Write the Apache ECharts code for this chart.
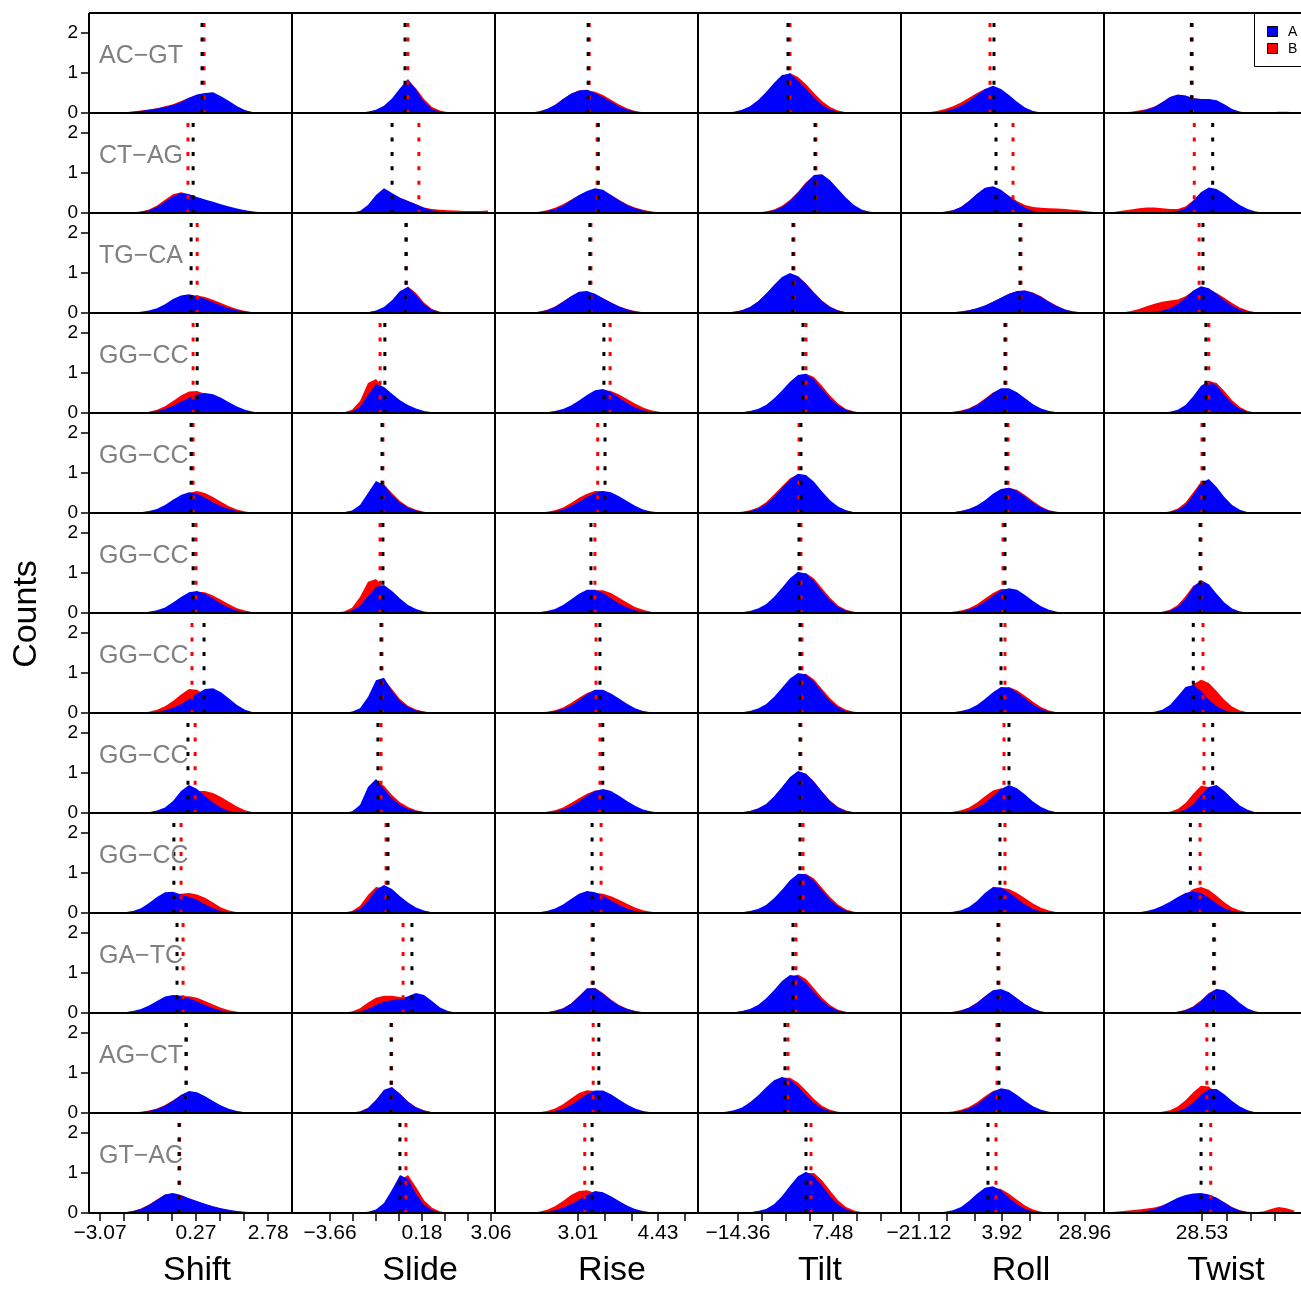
<!DOCTYPE html>
<html><head><meta charset="utf-8">
<script src="https://cdn.jsdelivr.net/npm/echarts@6/dist/echarts.min.js"></script>
<style>html,body{margin:0;padding:0;background:#fff;}#c{width:1301px;height:1291px;}</style>
</head><body><div id="c"></div>
<script>
// ---------------- DATA ----------------
const parameters = ['Shift', 'Slide', 'Rise', 'Tilt', 'Roll', 'Twist'];
const steps = ['AC\u2212GT', 'CT\u2212AG', 'TG\u2212CA', 'GG\u2212CC', 'GG\u2212CC', 'GG\u2212CC', 'GG\u2212CC', 'GG\u2212CC', 'GG\u2212CC', 'GA\u2212TC', 'AG\u2212CT', 'GT\u2212AC'];
const groupNames = ['A', 'B'];
const yTickValues = [0, 1, 2];
const yMax = 2.5;
const axisMin = [-3.4527, -5.2461, 1.5368, -23.556, -26.550, -11.87];
const axisMax = [3.6099, 3.2270, 5.1400, 23.113, 34.692, 69.33];
const shiftTicks = [-3.07, -2.235, -1.40, -0.565, 0.27, 1.105, 1.94, 2.775];
const slideTicks = [-3.66, -2.70, -1.74, -0.78, 0.18, 1.14, 2.10, 3.06];
const riseTicks = [3.01, 3.483, 3.957, 4.43, 4.903];
const tiltTicks = [-14.36, -8.90, -3.44, 2.02, 7.48, 12.94, 18.40];
const rollTicks = [-21.12, -12.773, -4.427, 3.92, 12.267, 20.613, 28.96];
const twistTicks = [28.53, 38.53, 48.53, 58.53];
const shiftLabels = [-3.07, 0.27, 2.78];
const slideLabels = [-3.66, 0.18, 3.06];
const riseLabels = [3.01, 4.43];
const tiltLabels = [-14.36, 7.48];
const rollLabels = [-21.12, 3.92, 28.96];
const twistLabels = [28.53];
// histogram bins: first bin centre and bin width (data units) per parameter
const binStart = [-3.3135, -5.0792, 1.6078, -22.636, -25.344, -10.27];
const binWidth = [0.27833, 0.33392, 0.14200, 1.8392, 2.4135, 3.2];
// bin counts x100, one row per step (12 rows x 25 bins)
const shiftA = [
[0,0,0,1,2,3,5,8,11,15,20,27,38,46,50,52,42,30,17,7,2,1,0,0,0],
[0,0,0,0,0,1,3,7,15,28,42,50,47,40,34,28,22,16,11,7,4,2,1,0,0],
[0,0,0,0,0,1,3,6,12,22,35,44,47,42,35,27,19,12,7,4,2,1,0,0,0],
[0,0,0,0,0,0,1,2,5,10,18,28,38,46,50,47,38,27,16,8,3,1,0,0,0],
[0,0,0,0,0,1,2,5,10,20,33,45,52,48,38,27,17,10,5,2,1,0,0,0,0],
[0,0,0,0,0,0,1,3,7,14,26,40,52,55,48,36,23,13,6,2,1,0,0,0,0],
[0,0,0,0,0,0,0,1,3,7,13,22,35,48,60,62,52,36,20,8,2,1,0,0,0],
[0,0,0,0,0,0,1,2,6,14,30,55,70,60,42,26,13,5,2,1,0,0,0,0,0],
[0,0,0,1,2,5,12,25,40,52,53,46,40,33,22,12,5,2,1,0,0,0,0,0,0],
[0,0,0,1,2,5,10,19,30,41,45,43,37,29,20,12,6,3,1,0,0,0,0,0,0],
[0,0,0,0,0,1,2,5,10,18,30,45,55,52,42,30,19,10,5,2,1,0,0,0,0],
[0,0,0,1,2,5,10,20,33,46,50,45,37,30,23,17,12,8,5,3,2,1,0,0,0]];
const shiftB = [
[0,0,0,1,2,4,6,9,12,17,22,30,38,45,48,48,40,28,16,7,2,1,0,0,0],
[0,0,0,0,0,2,4,9,19,33,47,52,47,38,31,25,19,14,9,6,3,1,0,0,0],
[0,0,0,0,0,1,2,5,10,18,29,38,43,44,40,33,25,17,10,5,2,1,0,0,0],
[0,0,0,0,0,0,1,3,8,17,30,44,54,55,48,38,27,17,9,4,1,0,0,0,0],
[0,0,0,0,0,1,2,4,8,16,28,40,50,55,50,40,28,17,9,4,1,0,0,0,0],
[0,0,0,0,0,0,1,2,5,11,21,34,46,53,52,44,33,22,12,6,2,1,0,0,0],
[0,0,0,0,0,0,1,3,8,17,30,46,60,58,45,30,17,8,3,1,0,0,0,0,0],
[0,0,0,0,0,0,1,2,5,10,20,35,48,55,55,50,40,28,16,7,2,1,0,0,0],
[0,0,0,1,2,4,9,18,30,40,45,48,50,46,38,26,14,6,2,1,0,0,0,0,0],
[0,0,0,1,2,4,8,15,24,34,40,42,42,38,30,21,13,7,3,1,0,0,0,0,0],
[0,0,0,0,0,1,3,6,11,20,32,45,53,50,41,29,18,10,4,2,1,0,0,0,0],
[0,0,0,1,2,5,11,21,34,46,49,44,36,29,22,16,11,7,4,2,1,0,0,0,0]];
const slideA = [
[0,0,0,0,0,0,0,0,1,3,8,18,36,62,85,58,28,10,3,1,0,0,0,0,0],
[0,0,0,0,0,0,0,1,5,20,45,62,50,38,30,22,13,7,4,2,1,1,0,0,0],
[0,0,0,0,0,0,0,0,1,2,6,15,32,55,65,45,22,8,2,1,0,0,0,0,0],
[0,0,0,0,0,0,1,4,15,45,72,65,48,32,20,11,5,2,1,0,0,0,0,0,0],
[0,0,0,0,0,1,2,6,20,50,80,70,45,26,13,6,2,1,0,0,0,0,0,0,0],
[0,0,0,0,0,1,2,6,18,42,65,70,55,36,20,10,4,1,0,0,0,0,0,0,0],
[0,0,0,0,0,0,1,3,12,40,82,88,55,30,15,7,3,1,0,0,0,0,0,0,0],
[0,0,0,0,0,0,1,4,20,65,85,60,36,20,10,5,2,1,0,0,0,0,0,0,0],
[0,0,0,0,0,0,1,3,10,30,58,70,60,42,26,14,6,2,1,0,0,0,0,0,0],
[0,0,0,0,0,0,0,1,4,10,20,28,32,35,42,50,45,30,14,5,1,0,0,0,0],
[0,0,0,0,0,0,0,1,4,12,32,58,65,48,28,14,6,2,1,0,0,0,0,0,0],
[0,0,0,0,0,0,0,0,1,3,9,25,58,95,85,48,20,7,2,1,0,0,0,0,0]];
const slideB = [
[0,0,0,0,0,0,0,0,1,3,7,16,33,58,82,62,35,15,6,2,1,0,0,0,0],
[0,0,0,0,0,0,0,1,4,18,42,58,48,38,30,22,14,10,8,7,6,5,5,5,6],
[0,0,0,0,0,0,0,0,1,2,5,13,29,52,66,50,26,10,3,1,0,0,0,0,0],
[0,0,0,0,0,0,2,8,30,75,85,60,40,25,14,7,3,1,0,0,0,0,0,0,0],
[0,0,0,0,0,1,2,5,17,45,75,72,50,30,16,8,3,1,0,0,0,0,0,0,0],
[0,0,0,0,0,1,4,13,40,78,85,62,40,24,13,6,2,1,0,0,0,0,0,0,0],
[0,0,0,0,0,0,1,3,10,35,75,85,60,35,18,9,4,1,0,0,0,0,0,0,0],
[0,0,0,0,0,0,1,3,15,55,80,68,45,27,15,7,3,1,0,0,0,0,0,0,0],
[0,0,0,0,0,0,1,5,18,45,65,62,50,35,21,11,5,1,0,0,0,0,0,0,0],
[0,0,0,0,0,0,1,4,12,26,38,43,43,40,36,30,20,10,4,1,0,0,0,0,0],
[0,0,0,0,0,0,0,1,4,13,33,57,63,48,29,15,7,2,1,0,0,0,0,0,0],
[0,0,0,0,0,0,0,0,1,2,7,20,48,82,95,65,32,13,4,1,0,0,0,0,0]];
const riseA = [
[0,0,0,0,1,4,10,20,35,48,56,58,50,40,28,17,9,4,1,0,0,0,0,0,0],
[0,0,0,0,1,2,5,10,18,32,45,55,62,58,45,32,20,12,6,3,1,0,0,0,0],
[0,0,0,0,1,3,7,15,28,42,53,55,48,37,26,16,9,4,2,1,0,0,0,0,0],
[0,0,0,0,0,1,2,5,10,19,31,45,57,60,52,38,25,14,7,3,1,0,0,0,0],
[0,0,0,0,0,1,2,4,9,17,28,40,50,55,52,42,30,18,9,4,2,1,0,0,0],
[0,0,0,0,1,2,5,10,20,34,48,58,58,50,37,24,14,7,3,1,0,0,0,0,0],
[0,0,0,0,0,1,2,5,10,19,32,47,58,58,49,36,23,12,5,2,1,0,0,0,0],
[0,0,0,0,0,1,2,4,9,17,29,43,55,60,55,43,30,18,9,4,1,0,0,0,0],
[0,0,0,0,1,2,5,11,21,35,48,55,52,43,31,20,11,5,2,1,0,0,0,0,0],
[0,0,0,0,0,1,2,5,11,23,42,62,62,48,32,19,10,5,2,1,0,0,0,0,0],
[0,0,0,0,0,1,2,5,10,20,33,47,56,56,47,34,21,11,5,2,1,0,0,0,0],
[0,0,0,0,0,1,3,7,13,22,33,45,55,52,42,30,19,10,5,2,1,0,0,0,0]];
const riseB = [
[0,0,0,0,1,4,10,20,35,48,56,57,53,45,33,21,12,5,2,0,0,0,0,0,0],
[0,0,0,0,1,3,7,13,22,33,44,53,58,55,45,33,22,14,8,4,2,1,0,0,0],
[0,0,0,0,1,3,8,16,29,42,52,53,47,37,26,17,10,5,2,1,0,0,0,0,0],
[0,0,0,0,0,1,2,4,8,15,26,40,52,58,55,46,35,24,14,7,3,1,0,0,0],
[0,0,0,0,0,1,3,7,14,25,38,48,55,55,47,35,23,13,6,3,1,0,0,0,0],
[0,0,0,0,1,2,4,8,15,26,39,50,57,57,50,38,26,15,8,3,1,0,0,0,0],
[0,0,0,0,0,1,3,7,14,25,38,50,57,54,44,31,19,10,4,1,0,0,0,0,0],
[0,0,0,0,0,1,3,7,14,25,37,48,56,57,50,38,25,14,7,3,1,0,0,0,0],
[0,0,0,0,1,2,4,8,15,26,38,47,50,48,42,33,23,14,7,3,1,0,0,0,0],
[0,0,0,0,0,1,2,6,12,24,42,60,63,50,34,20,11,5,2,1,0,0,0,0,0],
[0,0,0,0,1,2,5,11,22,36,50,57,55,46,34,22,12,6,2,1,0,0,0,0,0],
[0,0,0,0,1,3,8,17,30,45,55,57,50,40,29,18,10,5,2,1,0,0,0,0,0]];
const tiltA = [
[0,0,0,1,3,8,17,32,52,75,95,98,82,60,38,20,9,3,1,0,0,0,0,0,0],
[0,0,0,0,0,0,0,1,3,7,15,30,50,75,95,97,82,60,38,20,8,3,1,0,0],
[0,0,0,1,3,7,15,29,48,70,90,100,92,73,50,30,15,6,2,1,0,0,0,0,0],
[0,0,0,0,1,2,5,10,20,36,56,78,95,98,84,60,37,19,8,3,1,0,0,0,0],
[0,0,0,0,1,2,5,11,22,40,62,84,98,95,78,54,32,16,7,2,1,0,0,0,0],
[0,0,0,0,1,2,5,11,22,40,63,87,103,98,80,55,32,15,6,2,1,0,0,0,0],
[0,0,0,0,1,2,5,11,22,40,63,86,100,96,78,53,30,14,5,2,1,0,0,0,0],
[0,0,0,0,1,2,5,11,22,41,65,90,105,98,78,53,30,14,5,2,1,0,0,0,0],
[0,0,0,0,1,2,5,10,20,37,58,82,98,97,80,56,33,16,6,2,1,0,0,0,0],
[0,0,0,1,2,5,10,20,36,57,80,95,92,75,52,31,15,6,2,1,0,0,0,0,0],
[0,0,1,3,7,14,27,44,64,82,90,84,66,44,25,12,5,2,1,0,0,0,0,0,0],
[0,0,0,0,0,1,2,5,10,22,42,68,92,103,92,68,42,22,9,3,1,0,0,0,0]];
const tiltB = [
[0,0,0,1,2,6,14,28,48,72,92,100,90,72,50,30,15,6,2,0,0,0,0,0,0],
[0,0,0,0,0,0,0,2,4,9,18,33,53,77,93,95,80,58,36,18,7,2,1,0,0],
[0,0,0,1,3,7,15,28,47,69,88,97,92,74,52,31,16,7,2,1,0,0,0,0,0],
[0,0,0,0,1,2,4,9,18,33,52,74,92,98,90,68,44,24,10,4,1,0,0,0,0],
[0,0,0,0,1,3,7,14,27,46,67,87,97,92,74,50,29,14,6,2,1,0,0,0,0],
[0,0,0,0,1,2,4,9,19,35,57,81,98,100,86,62,38,19,8,3,1,0,0,0,0],
[0,0,0,0,1,2,4,9,19,35,57,80,96,98,84,60,37,19,8,3,1,0,0,0,0],
[0,0,0,0,1,2,5,11,22,40,63,88,103,98,79,54,31,15,6,2,1,0,0,0,0],
[0,0,0,0,1,2,4,8,17,32,52,75,93,98,86,63,40,21,9,3,1,0,0,0,0],
[0,0,0,1,2,4,9,18,32,52,74,90,96,85,62,38,20,8,3,1,0,0,0,0,0],
[0,0,1,2,5,11,22,38,57,76,88,88,76,56,35,18,8,3,1,0,0,0,0,0,0],
[0,0,0,0,0,1,2,4,8,17,33,56,82,100,100,82,56,32,15,6,2,1,0,0,0]];
const rollA = [
[0,0,0,1,2,5,10,18,30,45,60,68,60,45,28,14,5,1,0,0,0,0,0,0,0],
[0,0,0,0,1,3,7,15,30,48,63,67,58,42,26,13,5,1,0,0,0,0,0,0,0],
[0,0,0,0,0,1,2,4,7,12,19,28,38,48,55,56,50,40,28,17,9,4,2,1,0],
[0,0,0,0,0,1,2,5,10,20,34,50,62,62,52,37,22,11,5,2,1,0,0,0,0],
[0,0,0,0,0,1,2,5,10,19,32,48,60,63,55,41,26,14,6,2,1,0,0,0,0],
[0,0,0,0,0,1,2,4,8,16,28,43,56,62,58,45,30,17,8,3,1,0,0,0,0],
[0,0,0,0,0,1,2,5,10,20,35,52,65,64,52,36,21,10,4,1,0,0,0,0,0],
[0,0,0,0,0,0,1,3,6,13,25,42,60,70,62,46,29,15,6,2,1,0,0,0,0],
[0,0,0,0,0,1,3,7,15,30,50,65,64,52,36,21,10,4,1,0,0,0,0,0,0],
[0,0,0,0,0,1,2,6,13,25,42,57,60,52,37,22,11,4,1,0,0,0,0,0,0],
[0,0,0,0,0,1,2,5,11,21,37,53,62,58,45,30,17,8,3,1,0,0,0,0,0],
[0,0,0,0,1,3,7,15,30,48,63,67,56,38,22,10,4,1,0,0,0,0,0,0,0]];
const rollB = [
[0,0,0,2,5,10,17,26,38,50,60,62,55,40,25,12,4,1,0,0,0,0,0,0,0],
[0,0,0,0,1,3,7,15,30,47,62,65,57,43,30,20,15,13,12,11,10,8,6,4,2],
[0,0,0,0,0,1,2,4,7,12,19,28,38,48,54,56,51,42,29,18,9,4,2,1,0],
[0,0,0,0,0,1,3,6,12,22,36,51,60,60,50,35,21,10,4,2,1,0,0,0,0],
[0,0,0,0,0,1,2,5,10,18,30,45,58,63,58,45,30,16,7,3,1,0,0,0,0],
[0,0,0,0,0,1,3,6,12,22,36,50,60,60,52,38,24,13,6,2,1,0,0,0,0],
[0,0,0,0,0,1,2,4,8,17,30,46,60,65,57,43,28,15,6,2,1,0,0,0,0],
[0,0,0,0,0,1,3,7,14,26,42,56,62,58,46,32,19,9,3,1,0,0,0,0,0],
[0,0,0,0,0,1,2,5,11,23,40,56,63,60,50,37,24,13,6,2,1,0,0,0,0],
[0,0,0,0,0,1,3,7,14,26,42,56,58,50,36,22,11,4,1,0,0,0,0,0,0],
[0,0,0,0,1,2,4,8,15,27,42,55,60,52,38,24,13,6,2,1,0,0,0,0,0],
[0,0,0,0,1,2,5,11,22,38,55,64,60,48,33,19,9,3,1,0,0,0,0,0,0]];
const twistA = [
[0,0,1,2,4,8,15,27,40,46,44,37,35,35,32,22,10,3,1,0,0,0,0,0,0],
[0,0,0,0,0,0,0,1,2,5,12,30,52,64,60,48,33,20,10,4,1,0,0,0,0],
[0,0,0,0,0,1,3,6,12,22,38,56,67,62,48,32,18,8,3,1,0,0,0,0,0],
[0,0,0,0,0,0,0,1,3,8,20,42,68,80,68,45,24,10,3,1,0,0,0,0,0],
[0,0,0,0,0,0,0,1,3,8,20,45,75,85,65,40,20,8,2,1,0,0,0,0,0],
[0,0,0,0,0,0,1,2,6,15,35,65,82,72,48,26,11,4,1,0,0,0,0,0,0],
[0,0,0,0,0,1,3,8,20,42,65,70,55,34,17,7,2,1,0,0,0,0,0,0,0],
[0,0,0,0,0,0,0,0,1,3,8,22,45,65,70,55,36,19,8,2,1,0,0,0,0],
[0,0,0,1,2,5,10,18,28,40,50,54,50,38,24,12,5,2,1,0,0,0,0,0,0],
[0,0,0,0,0,0,0,0,1,3,7,15,30,48,60,57,42,25,11,4,1,0,0,0,0],
[0,0,0,0,0,0,0,1,2,5,12,26,45,60,60,47,30,16,7,2,1,0,0,0,0],
[0,0,0,1,2,5,10,18,28,38,45,49,50,46,38,26,14,6,2,1,0,0,0,0,0]];
const twistB = [
[1,1,2,3,6,10,16,27,40,45,43,37,35,34,30,20,9,3,1,1,1,2,3,3,2],
[1,3,6,9,12,14,14,12,10,10,16,32,52,60,56,44,30,18,8,3,1,0,0,0,0],
[0,0,2,5,10,17,23,28,31,34,42,55,62,60,50,38,25,14,6,2,0,0,0,0,0],
[0,0,0,0,0,0,0,1,2,6,16,36,62,80,75,55,32,15,5,1,0,0,0,0,0],
[0,0,0,0,0,0,0,1,4,11,26,52,78,78,58,34,16,6,2,1,0,0,0,0,0],
[0,0,0,0,0,0,1,3,8,20,42,68,78,66,43,22,9,3,1,0,0,0,0,0,0],
[0,0,0,0,0,0,1,3,9,22,45,72,83,75,55,33,16,6,2,1,0,0,0,0,0],
[0,0,0,0,0,0,0,1,3,10,25,48,68,65,48,30,15,6,2,1,0,0,0,0,0],
[0,0,0,0,1,3,6,12,20,32,46,60,65,58,43,27,14,6,2,1,0,0,0,0,0],
[0,0,0,0,0,0,0,0,1,3,8,17,32,50,60,55,40,23,10,3,1,0,0,0,0],
[0,0,0,0,0,0,1,3,7,16,32,52,68,66,50,30,14,5,2,1,0,0,0,0,0],
[2,3,5,7,9,11,14,19,27,36,43,47,48,45,38,27,15,7,3,2,4,10,15,12,6]];
// mean values (dotted lines)
const shiftMeanA = [0.48,0.17,0.10,0.31,0.10,0.17,0.55,-0.01,-0.50,-0.39,-0.08,-0.32];
const shiftMeanB = [0.55,-0.01,0.31,0.17,0.17,0.27,0.13,0.24,-0.25,-0.18,-0.06,-0.30];
const slideMeanA = [-0.53,-1.07,-0.49,-1.37,-1.49,-1.45,-1.53,-1.66,-1.24,-0.24,-1.11,-0.74];
const slideMeanB = [-0.41,0.05,-0.47,-1.57,-1.45,-1.57,-1.49,-1.53,-1.32,-0.61,-1.09,-0.49];
const riseMeanA = [3.19,3.37,3.22,3.47,3.49,3.24,3.40,3.45,3.26,3.28,3.38,3.26];
const riseMeanB = [3.21,3.35,3.24,3.58,3.36,3.31,3.33,3.40,3.42,3.26,3.28,3.13];
const tiltMeanA = [-2.87,3.34,-1.72,0.58,0.12,-0.34,-0.11,-0.11,-0.11,-1.72,-3.56,1.27];
const tiltMeanB = [-2.41,3.55,-1.50,1.27,-0.34,0.12,0.35,0.10,0.58,-1.03,-2.87,2.42];
const rollMeanA = [1.50,2.11,9.35,4.82,5.12,4.82,3.62,6.03,3.31,2.71,3.01,-0.31];
const rollMeanB = [0.30,7.24,9.65,5.12,5.73,4.22,4.82,4.52,4.82,3.01,2.41,2.11];
const twistMeanA = [24.13,32.93,28.93,30.13,29.33,27.73,24.93,32.93,23.73,33.33,33.33,28.13];
const twistMeanB = [24.53,25.33,27.33,31.33,28.53,28.13,28.93,29.33,27.73,33.73,30.53,32.13];

// ---------------- BUILD ----------------
const histA = [shiftA, slideA, riseA, tiltA, rollA, twistA];
const histB = [shiftB, slideB, riseB, tiltB, rollB, twistB];
const meansA = [shiftMeanA, slideMeanA, riseMeanA, tiltMeanA, rollMeanA, twistMeanA];
const meansB = [shiftMeanB, slideMeanB, riseMeanB, tiltMeanB, rollMeanB, twistMeanB];
const ticks = [shiftTicks, slideTicks, riseTicks, tiltTicks, rollTicks, twistTicks];
const labels = [shiftLabels, slideLabels, riseLabels, tiltLabels, rollLabels, twistLabels];

const FONT = "'Liberation Sans', Arial, Helvetica, sans-serif";
const L0 = 89, T0 = 13, PW = 203, PH = 100;
const BLUE = '#0000ff', RED = '#ff0000';
const nR = steps.length, nC = parameters.length;
const fmt = v => (v < 0 ? '\u2212' : '') + Math.abs(v).toFixed(2);

const grids = [], xAxes = [], yAxes = [], series = [];
function histData(c, arr) {
  return arr.map((h, i) => [binStart[c] + i * binWidth[c], h / 100]);
}
for (let r = 0; r < nR; r++) {
  for (let c = 0; c < nC; c++) {
    const k = r * nC + c;
    grids.push({ left: L0 + PW * c, top: T0 + PH * r, width: PW, height: PH, show: false });
    xAxes.push({
      type: 'value', gridIndex: k, min: axisMin[c], max: axisMax[c], show: r === nR - 1, position: 'bottom',
      axisLine: { show: false, onZero: false }, splitLine: { show: false },
      axisTick: { show: true, length: 8, customValues: ticks[c], lineStyle: { color: '#000', width: 1.5 } },
      axisLabel: { customValues: labels[c], formatter: fmt, fontSize: 21, color: '#000', margin: 10, fontFamily: FONT }
    });
    yAxes.push({
      type: 'value', gridIndex: k, min: 0, max: yMax, show: c === 0, position: 'left',
      axisLine: { show: false, onZero: false }, splitLine: { show: false },
      axisTick: { show: true, length: 8, customValues: yTickValues, lineStyle: { color: '#000', width: 1.5 } },
      axisLabel: { customValues: yTickValues, fontSize: 19, color: '#000', margin: 11, fontFamily: FONT }
    });
    const common = { type: 'line', xAxisIndex: k, yAxisIndex: k, symbol: 'none', showSymbol: false, silent: true, animation: false };
    series.push(Object.assign({}, common, { name: groupNames[1], data: histData(c, histB[c][r]), lineStyle: { width: 0 }, areaStyle: { color: RED, opacity: 1 } }));
    series.push(Object.assign({}, common, { name: groupNames[0], data: histData(c, histA[c][r]), lineStyle: { width: 0 }, areaStyle: { color: BLUE, opacity: 1 } }));
    const top = 2.25;
    series.push(Object.assign({}, common, { name: 'meanB', data: [[meansB[c][r], top], [meansB[c][r], 0]], lineStyle: { color: RED, width: 3, type: [4, 10.45], cap: 'butt' } }));
    series.push(Object.assign({}, common, { name: 'meanA', data: [[meansA[c][r], top], [meansA[c][r], 0]], lineStyle: { color: '#000', width: 3, type: [4, 10.45], cap: 'butt' } }));
  }
}

const graphics = [];
// panel frames
for (let c = 0; c <= nC; c++) {
  graphics.push({ type: 'line', z: 100, shape: { x1: L0 + PW * c, y1: T0, x2: L0 + PW * c, y2: T0 + PH * nR }, style: { stroke: '#000', lineWidth: 2 } });
}
for (let r = 0; r <= nR; r++) {
  graphics.push({ type: 'line', z: 100, shape: { x1: L0, y1: T0 + PH * r, x2: L0 + PW * nC, y2: T0 + PH * r }, style: { stroke: '#000', lineWidth: 2 } });
}
// step labels
steps.forEach((s, r) => {
  graphics.push({ type: 'text', z: 110, x: 99, y: T0 + PH * r + 43, style: { text: s, fill: '#808080', font: '25px ' + FONT, textVerticalAlign: 'middle', textAlign: 'left' } });
});
// axis titles
const titleX = [197, 420, 612, 820, 1021, 1226];
parameters.forEach((p, c) => {
  graphics.push({ type: 'text', z: 110, x: titleX[c], y: 1271, style: { text: p, fill: '#000', font: '34px ' + FONT, textAlign: 'center', textVerticalAlign: 'middle' } });
});
graphics.push({ type: 'text', z: 110, x: 27, y: 614, rotation: Math.PI / 2, style: { text: 'Counts', fill: '#000', font: '34px ' + FONT, textAlign: 'center', textVerticalAlign: 'middle' } });
// legend
graphics.push({ type: 'rect', z: 120, shape: { x: 1254.5, y: 13.5, width: 80, height: 53 }, style: { fill: '#fff', stroke: '#000', lineWidth: 1 } });
[[BLUE, groupNames[0], 26], [RED, groupNames[1], 43]].forEach(([col, name, y]) => {
  graphics.push({ type: 'rect', z: 121, shape: { x: 1267.5, y: y + 0.5, width: 10, height: 10 }, style: { fill: col, stroke: '#000', lineWidth: 1 } });
  graphics.push({ type: 'text', z: 121, x: 1288, y: y + 6, style: { text: name, fill: '#000', font: '14px ' + FONT, textVerticalAlign: 'middle', textAlign: 'left' } });
});

const chart = echarts.init(document.getElementById('c'), null, { renderer: 'canvas' });
chart.setOption({
  backgroundColor: '#fff',
  animation: false,
  grid: grids, xAxis: xAxes, yAxis: yAxes, series: series,
  graphic: graphics
});
</script></body></html>
